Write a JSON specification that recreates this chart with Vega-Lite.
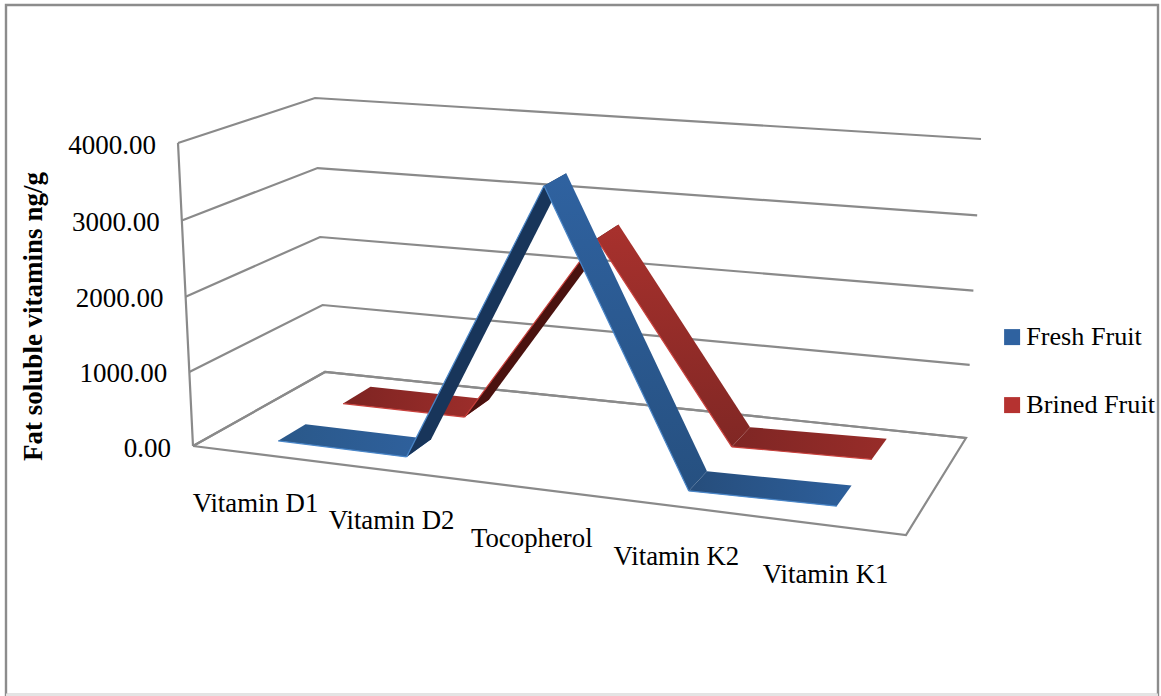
{
"$schema":"https://vega.github.io/schema/vega-lite/v6.json",
"width":1152,"height":690,
"autosize":{"type":"none"},
"padding":{"left":6,"top":5,"right":3,"bottom":1},
"background":"white",
"view":{"stroke":"#8c8c8c","strokeWidth":2.4},
"datasets":{
"frame":[{"value":0},{"value":1000},{"value":2000},{"value":3000},{"value":4000}],
"vitamins":[
{"category":"Vitamin D1","series":"Fresh Fruit","value":90},
{"category":"Vitamin D2","series":"Fresh Fruit","value":85},
{"category":"Tocopherol","series":"Fresh Fruit","value":3770},
{"category":"Vitamin K2","series":"Fresh Fruit","value":90},
{"category":"Vitamin K1","series":"Fresh Fruit","value":125},
{"category":"Vitamin D1","series":"Brined Fruit","value":60},
{"category":"Vitamin D2","series":"Brined Fruit","value":60},
{"category":"Tocopherol","series":"Brined Fruit","value":2680},
{"category":"Vitamin K2","series":"Brined Fruit","value":60},
{"category":"Vitamin K1","series":"Brined Fruit","value":100}
]},
"layer":[
{"data":{"values":[{"edge":"bottom"}]},
"mark":{"type":"rule","stroke":"#e4e4e4","strokeWidth":3},
"encoding":{"y":{"datum":695,"type":"quantitative","scale":{"domain":[695,5],"nice":false,"zero":false},"axis":{"title":"Fat soluble vitamins ng/g","labels":false,"ticks":false,"domain":false,"grid":false,"titleX":41,"titleY":311,"titleFont":"Liberation Serif","titleFontSize":27,"titleFontWeight":"bold","titleColor":"#000000"}}}},
{"data":{"name":"frame"},
"transform":[
{"calculate":"[0,1,2,3,4]","as":"ks"},{"flatten":["ks"],"as":["k"]},
{"calculate":"(datum.k==2||datum.k==3)?1:0","as":"t"},
{"calculate":"(datum.k==1||datum.k==2)?1:0","as":"d"},
{"calculate":"(datum.value/4000)/(datum.value/4000+1.03*(1-datum.value/4000))","as":"v"},
{"calculate":"(1-datum.d)*((1-datum.t)*193+datum.t*906)+datum.d*((1-datum.t)*325+datum.t*966)+datum.v*((1-datum.d)*((1-datum.t)*(-15)+datum.t*12)+datum.d*((1-datum.t)*(-10)+datum.t*15))","as":"px"},
{"calculate":"(1-datum.d)*((1-datum.t)*446+datum.t*535)+datum.d*((1-datum.t)*372+datum.t*438)-datum.v*((1-datum.d)*((1-datum.t)*303+datum.t*330)+datum.d*((1-datum.t)*274+datum.t*299))","as":"py"}
],
"encoding":{
"x":{"field":"px","type":"quantitative","scale":{"domain":[6,1158],"nice":false,"zero":false},"axis":null},
"y":{"field":"py","type":"quantitative"}
},
"layer":[
{"transform":[{"filter":"datum.k<=2"}],"mark":{"type":"line","stroke":"#8a8a8a","strokeWidth":2.2},"encoding":{"detail":{"field":"value"},"order":{"field":"k","type":"quantitative"}}},
{"transform":[{"filter":"datum.value==0"}],"mark":{"type":"line","stroke":"#8a8a8a","strokeWidth":2.2},"encoding":{"order":{"field":"k","type":"quantitative"}}},
{"transform":[{"filter":"datum.k==0"}],"mark":{"type":"line","stroke":"#8a8a8a","strokeWidth":2.2},"encoding":{"order":{"field":"value","type":"quantitative"}}},
{"transform":[{"filter":"datum.k==0"}],"mark":{"type":"text","align":"right","baseline":"middle","dx":-22,"dy":2.5,"font":"Liberation Serif","fontSize":27,"color":"#000000"},"encoding":{"text":{"field":"value","type":"quantitative","format":".2f"}}}
]},
{"data":{"name":"vitamins"},
"transform":[
{"calculate":"indexof(['Vitamin D1','Vitamin D2','Tocopherol','Vitamin K2','Vitamin K1'],datum.category)","as":"i"},
{"window":[{"op":"lead","field":"value","as":"next"}],"sort":[{"field":"i","order":"ascending"}],"groupby":["series"]},
{"filter":"isValid(datum.next)"},
{"calculate":"[0,1,2,3]","as":"cs"},{"flatten":["cs"],"as":["c"]},
{"calculate":"(datum.i+((datum.c==1||datum.c==2)?1:0)+0.5)/5","as":"u"},
{"calculate":"datum.u/(datum.u+1.08*(1-datum.u))+(datum.u<0.2?0.009:0)","as":"t"},
{"calculate":"(datum.series=='Fresh Fruit'?0.1:0.62)+(datum.c>=2?0.22:0)","as":"d"},
{"calculate":"((datum.c==1||datum.c==2)?datum.next:datum.value)/4000","as":"w"},
{"calculate":"datum.w/(datum.w+1.03*(1-datum.w))","as":"v"},
{"calculate":"(1-datum.d)*((1-datum.t)*193+datum.t*906)+datum.d*((1-datum.t)*325+datum.t*966)+datum.v*((1-datum.d)*((1-datum.t)*(-15)+datum.t*12)+datum.d*((1-datum.t)*(-10)+datum.t*15))","as":"px"},
{"calculate":"(1-datum.d)*((1-datum.t)*446+datum.t*535)+datum.d*((1-datum.t)*372+datum.t*438)-datum.v*((1-datum.d)*((1-datum.t)*303+datum.t*330)+datum.d*((1-datum.t)*274+datum.t*299))","as":"py"}
],
"encoding":{
"x":{"field":"px","type":"quantitative","axis":null},
"y":{"field":"py","type":"quantitative"},
"order":{"field":"c","type":"quantitative"},
"detail":{"field":"i"}
},
"layer":[
{"transform":[{"filter":"datum.series=='Brined Fruit'&&datum.i==0"}],"mark":{"type":"line","stroke":null,"fill":{"gradient":"linear","x1":0,"x2":1,"y1":0,"y2":0,"stops":[{"offset":0,"color":"#7d2422"},{"offset":1,"color":"#9f2e2b"}]}}},
{"transform":[{"filter":"datum.series=='Brined Fruit'&&datum.i==1"}],"mark":{"type":"line","stroke":null,"fill":"#4a120f"}},
{"transform":[{"filter":"datum.series=='Brined Fruit'&&datum.i==3"}],"mark":{"type":"line","stroke":null,"fill":{"gradient":"linear","x1":0,"x2":1,"y1":0,"y2":0,"stops":[{"offset":0,"color":"#7e2624"},{"offset":1,"color":"#982c29"}]}}},
{"transform":[{"filter":"datum.series=='Brined Fruit'&&datum.i==2"}],"mark":{"type":"line","stroke":null,"fill":{"gradient":"linear","x1":0,"x2":0,"y1":0,"y2":1,"stops":[{"offset":0,"color":"#a8312d"},{"offset":1,"color":"#802724"}]}}},
{"transform":[{"filter":"datum.series=='Brined Fruit'&&datum.c<=1"}],"mark":{"type":"line","stroke":"#c9403c","strokeWidth":1.2}},
{"transform":[{"filter":"datum.series=='Fresh Fruit'&&datum.i==0"}],"mark":{"type":"line","stroke":null,"fill":{"gradient":"linear","x1":0,"x2":1,"y1":0,"y2":0,"stops":[{"offset":0,"color":"#2a5889"},{"offset":1,"color":"#2f619e"}]}}},
{"transform":[{"filter":"datum.series=='Fresh Fruit'&&datum.i==1"}],"mark":{"type":"line","stroke":null,"fill":"#18355a"}},
{"transform":[{"filter":"datum.series=='Fresh Fruit'&&datum.i==3"}],"mark":{"type":"line","stroke":null,"fill":{"gradient":"linear","x1":0,"x2":1,"y1":0,"y2":0,"stops":[{"offset":0,"color":"#264d7b"},{"offset":1,"color":"#2d5f9b"}]}}},
{"transform":[{"filter":"datum.series=='Fresh Fruit'&&datum.i==2"}],"mark":{"type":"line","stroke":null,"fill":{"gradient":"linear","x1":0,"x2":0,"y1":0,"y2":1,"stops":[{"offset":0,"color":"#2f62a0"},{"offset":1,"color":"#265080"}]}}},
{"transform":[{"filter":"datum.series=='Fresh Fruit'&&datum.c<=1"}],"mark":{"type":"line","stroke":"#4a86c8","strokeWidth":1.2}},
{"transform":[{"filter":"datum.c==0&&datum.i==0"}],"mark":{"type":"point","filled":true,"opacity":0},
"encoding":{"color":{"field":"series","type":"nominal","scale":{"domain":["Fresh Fruit","Brined Fruit"],"range":["#2f62a0","#b53230"]},"legend":{"title":null,"orient":"none","legendX":993,"legendY":319,"symbolType":"square","symbolSize":256,"symbolOpacity":1,"symbolStrokeWidth":0,"labelFont":"Liberation Serif","labelFontSize":26.2,"labelColor":"#000000","rowPadding":41,"labelOffset":1}}}}
]},
{"data":{"name":"vitamins"},
"transform":[
{"filter":"datum.series=='Fresh Fruit'"},
{"calculate":"indexof(['Vitamin D1','Vitamin D2','Tocopherol','Vitamin K2','Vitamin K1'],datum.category)","as":"i"},
{"calculate":"(datum.i+0.5)/5","as":"u"},
{"calculate":"datum.u/(datum.u+1.08*(1-datum.u))","as":"t"},
{"calculate":"(1-datum.t)*193+datum.t*906","as":"px"},
{"calculate":"(1-datum.t)*446+datum.t*535","as":"py"}
],
"mark":{"type":"text","align":"center","baseline":"middle","dx":-4,"dy":50,"font":"Liberation Serif","fontSize":26.8,"color":"#000000"},
"encoding":{
"x":{"field":"px","type":"quantitative","axis":null},
"y":{"field":"py","type":"quantitative"},
"text":{"field":"category","type":"nominal"}
}}
]
}
